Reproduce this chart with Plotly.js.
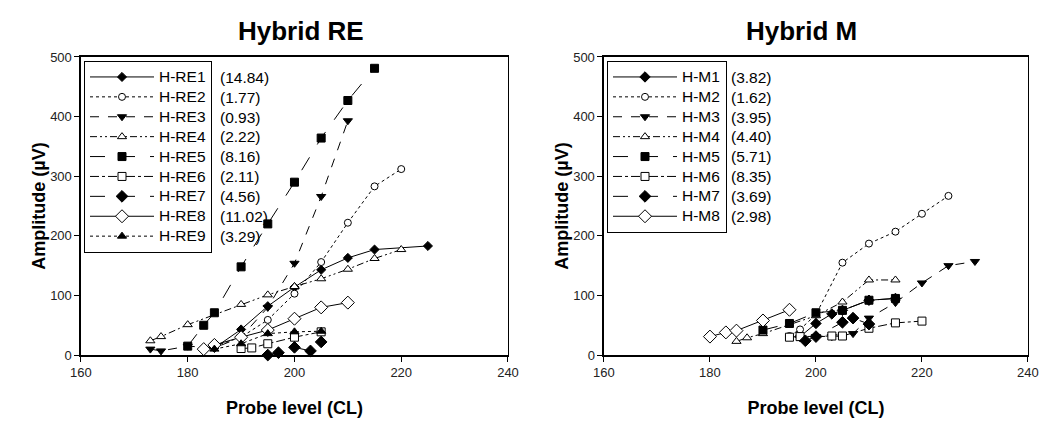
<!DOCTYPE html>
<html>
<head>
<meta charset="utf-8">
<script src="https://cdn.plot.ly/plotly-3.0.1.min.js"></script>
<style>
  html, body { margin:0; padding:0; background:#fff; }
  #chart { width:1050px; height:440px; }
</style>
</head>
<body>
<div id="chart"></div>
<script>
/* Probe level vs amplitude, Hybrid RE and Hybrid M panels */

const FONT = 'Liberation Sans, Arial, sans-serif';

// ---- Hybrid RE ----
const RE_NAMES  = ['H-RE1','H-RE2','H-RE3','H-RE4','H-RE5','H-RE6','H-RE7','H-RE8','H-RE9'];
const RE_SLOPES = ['(14.84)','(1.77)','(0.93)','(2.22)','(8.16)','(2.11)','(4.56)','(11.02)','(3.29)'];

const RE1_X = [185,190,195,200,205,210,215,225];
const RE1_Y = [12,43,82,114,143,163,177,183];
const RE2_X = [185,190,195,200,205,210,215,220];
const RE2_Y = [15,30,59,103,156,222,283,312];
const RE3_X = [173,175,180,185,190,195,200,205,210];
const RE3_Y = [10,7,15,12,30,80,154,266,393];
const RE4_X = [173,175,180,190,195,200,205,210,215,220];
const RE4_Y = [24,31,51,85,101,115,128,144,162,177];
const RE5_X = [180,183,185,190,195,200,205,210,215];
const RE5_Y = [15,50,71,148,220,290,364,427,481];
const RE6_X = [190,192,195,200,205];
const RE6_Y = [11,12,19,30,39];
const RE7_X = [195,197,200,203,205];
const RE7_Y = [0,4,13,7,22];
const RE8_X = [183,185,190,195,200,205,210];
const RE8_Y = [10,17,30,42,61,80,88];
const RE9_X = [185,190,195,200,205];
const RE9_Y = [10,19,36,39,40];

// ---- Hybrid M ----
const M_NAMES  = ['H-M1','H-M2','H-M3','H-M4','H-M5','H-M6','H-M7','H-M8'];
const M_SLOPES = ['(3.82)','(1.62)','(3.95)','(4.40)','(5.71)','(8.35)','(3.69)','(2.98)'];

const M1_X = [197,200,203,205,210,215];
const M1_Y = [31,53,69,75,92,95];
const M2_X = [195,197,200,205,210,215,220,225];
const M2_Y = [32,43,68,155,187,207,237,267];
const M3_X = [200,203,205,207,210,215,220,225,230];
const M3_Y = [31,31,32,36,62,88,121,150,157];
const M4_X = [185,187,190,200,205,210,215];
const M4_Y = [23,29,36,66,89,126,126];
const M5_X = [190,195,200,205,210,215];
const M5_Y = [42,53,71,75,92,95];
const M6_X = [195,197,203,205,210,215,220];
const M6_Y = [30,31,32,32,45,54,57];
const M7_X = [198,200,205,207,210];
const M7_Y = [24,31,55,62,52];
const M8_X = [180,183,185,190,195];
const M8_Y = [31,38,41,58,76];

const X_TICKS = [160,180,200,220,240];
const Y_TICKS = [0,100,200,300,400,500];

// line + marker looks (black ink throughout)
const DDOT = '7px,3px,2px,3px,2px,3px';
const RE_STYLE = [
  {dash:'solid',    sym:'diamond',       fill:'#000', size:7},
  {dash:'dot',      sym:'circle',        fill:'#fff', size:7},
  {dash:'dash',     sym:'triangle-down', fill:'#000', size:8},
  {dash:DDOT,       sym:'triangle-up',   fill:'#fff', size:8},
  {dash:'longdash', sym:'square',        fill:'#000', size:8},
  {dash:'dashdot',  sym:'square',        fill:'#fff', size:8},
  {dash:'longdash', sym:'diamond',       fill:'#000', size:9},
  {dash:'solid',    sym:'diamond',       fill:'#fff', size:10},
  {dash:'dot',      sym:'triangle-up',   fill:'#000', size:8},
];
const M_STYLE = [
  {dash:'solid',    sym:'diamond',       fill:'#000', size:8},
  {dash:'dot',      sym:'circle',        fill:'#fff', size:7},
  {dash:'dash',     sym:'triangle-down', fill:'#000', size:8},
  {dash:DDOT,       sym:'triangle-up',   fill:'#fff', size:8},
  {dash:'longdash', sym:'square',        fill:'#000', size:8},
  {dash:'dashdot',  sym:'square',        fill:'#fff', size:8},
  {dash:'longdash', sym:'diamond',       fill:'#000', size:9},
  {dash:'solid',    sym:'diamond',       fill:'#fff', size:10},
];

const RE_X = [RE1_X,RE2_X,RE3_X,RE4_X,RE5_X,RE6_X,RE7_X,RE8_X,RE9_X];
const RE_Y = [RE1_Y,RE2_Y,RE3_Y,RE4_Y,RE5_Y,RE6_Y,RE7_Y,RE8_Y,RE9_Y];
const M_X  = [M1_X,M2_X,M3_X,M4_X,M5_X,M6_X,M7_X,M8_X];
const M_Y  = [M1_Y,M2_Y,M3_Y,M4_Y,M5_Y,M6_Y,M7_Y,M8_Y];

function trace(x, y, name, st, xa, ya, lg) {
  return {
    type:'scatter', mode:'lines+markers', x, y,
    name:'<span style="font-size:15.5px">' + name + '</span>',
    xaxis:xa, yaxis:ya, legend:lg, cliponaxis:false,
    line:{color:'#000', width:1, dash:st.dash},
    marker:{symbol:st.sym, size:st.size, color:st.fill, line:{color:'#000', width:1}},
  };
}

const data = [
  ...RE_NAMES.map((n,i)=>trace(RE_X[i], RE_Y[i], n, RE_STYLE[i], 'x', 'y', 'legend')),
  ...M_NAMES.map((n,i)=>trace(M_X[i], M_Y[i], n, M_STYLE[i], 'x2', 'y2', 'legend2')),
];

const tickfont = {family:FONT, size:13, color:'#222'};
function xaxis(dom, anchor) {
  return { domain:dom, anchor, range:[160,240], tickvals:X_TICKS,
    showline:true, mirror:true, linecolor:'#000', linewidth:1.5,
    ticks:'outside', ticklen:5, tickcolor:'#000', showgrid:false, zeroline:false,
    tickfont, title:{text:'<b>Probe level (CL)</b>', standoff:22,
                     font:{family:FONT, size:18, color:'#000'}} };
}
function yaxis(anchor) {
  return { domain:[0.193,0.8705], anchor, range:[0,500], tickvals:Y_TICKS,
    showline:true, mirror:true, linecolor:'#000', linewidth:1.5,
    ticks:'outside', ticklen:5, tickcolor:'#000', showgrid:false, zeroline:false,
    tickfont, title:{text:'<b>Amplitude (µV)</b>', standoff:0,
                     font:{family:FONT, size:18, color:'#000'}} };
}
const legendBase = {
  bgcolor:'#fff', bordercolor:'#000', borderwidth:1, itemwidth:64,
  font:{family:FONT, size:13, color:'#000'}, xanchor:'left', yanchor:'top',
  traceorder:'normal', itemclick:false,
};

const ROW0 = 77.3, ROWH = 19.9;
const slopeNotes = [
  ...RE_SLOPES.map((s,i)=>({x:218/1050, y:1-(ROW0+i*ROWH)/440, text:s})),
  ...M_SLOPES.map((s,i)=>({x:729/1050, y:1-(ROW0+i*ROWH)/440, text:s})),
].map(a=>({...a, xref:'paper', yref:'paper', xanchor:'left', yanchor:'middle',
           showarrow:false, font:{family:FONT, size:15.5, color:'#000'}}));

const layout = {
  width:1050, height:440, margin:{l:0,r:0,t:0,b:0},
  paper_bgcolor:'#fff', plot_bgcolor:'#fff', showlegend:true,
  xaxis: xaxis([0.0771,0.4838], 'y'),
  yaxis: yaxis('x'),
  xaxis2: xaxis([0.5752,0.979], 'y2'),
  yaxis2: yaxis('x2'),
  legend:  {...legendBase, x:84/1050,  y:1-61/440},
  legend2: {...legendBase, x:607/1050, y:1-61/440},
  annotations: [
    {text:'<b>Hybrid RE</b>', x:301/1050, y:1-31/440},
    {text:'<b>Hybrid M</b>',  x:801/1050, y:1-31/440},
  ].map(a=>({...a, xref:'paper', yref:'paper', xanchor:'center', yanchor:'middle',
             showarrow:false, font:{family:FONT, size:26, color:'#000'}}))
   .concat(slopeNotes),
};

Plotly.newPlot('chart', data, layout, {displayModeBar:false, staticPlot:true});
</script>
</body>
</html>
